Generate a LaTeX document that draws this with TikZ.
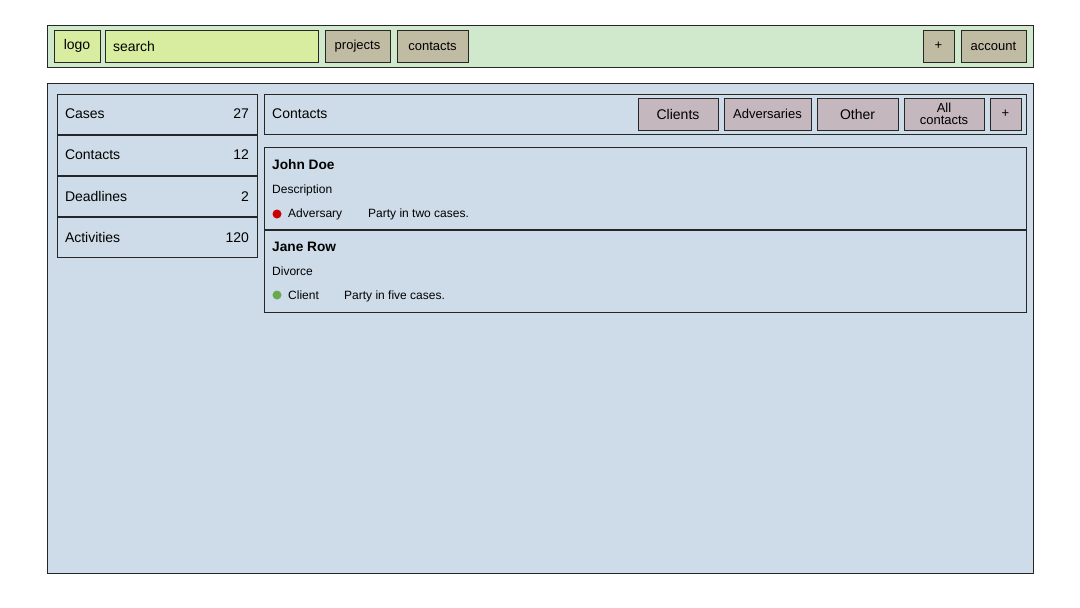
\documentclass[tikz,border=0pt]{standalone}
\usepackage{fontspec}
\setmainfont{Liberation Sans}
\usetikzlibrary{positioning,calc}

\definecolor{barbg}{RGB}{208,233,204}
\definecolor{fieldgreen}{RGB}{217,237,160}
\definecolor{navtan}{RGB}{192,188,164}
\definecolor{panelblue}{RGB}{205,220,232}
\definecolor{tabmauve}{RGB}{196,183,190}
\definecolor{dotred}{RGB}{204,0,0}
\definecolor{dotgreen}{RGB}{106,168,79}

\begin{document}
\begin{tikzpicture}[
    x=1pt, y=-1pt,
    font=\fontsize{14}{16}\selectfont,
    node distance = 6pt and 7pt,
    % --- node styles ---
    box/.style = {rectangle, draw=black!85, line width=0.8pt,
                  inner sep=0pt, outer sep=0pt, minimum height=32pt},
    field/.style = {box, fill=fieldgreen},
    navbtn/.style = {box, fill=navtan, font=\fontsize{13}{14}\selectfont},
    tabbtn/.style = {box, fill=tabmauve, minimum height=32pt},
    sideitem/.style = {box, fill=panelblue, minimum height=40pt,
                       text width=184pt, inner xsep=8pt, align=left},
    card/.style = {box, fill=panelblue, minimum width=762pt, minimum height=82pt},
    cname/.style = {font=\bfseries\fontsize{13.7}{16}\selectfont, inner sep=0pt, anchor=base west},
    meta/.style = {font=\fontsize{12}{13}\selectfont, inner sep=0pt, anchor=base west},
    dot/.style = {circle, inner sep=0pt, minimum size=9pt},
]
\useasboundingbox (0,0) rectangle (1080,608);

%============ TOP BAR ============
\node (topbar) [box, fill=barbg, minimum width=986pt, minimum height=42pt,
                anchor=north west] at (47,25) {};

\node (logo) [field, minimum width=46pt, anchor=north west] at (54,30) {logo};
\node (search) [field, text width=197pt, inner xsep=8pt, align=left,
                right=5pt of logo] {search};
\node (projects) [navbtn, minimum width=65pt, right=7pt of search] {projects};
\node (contacts) [navbtn, minimum width=71pt, right=7pt of projects] {contacts};

\node (account) [navbtn, minimum width=65pt, anchor=north east] at (1026,30) {account};
\node (newitem) [navbtn, minimum width=31pt, left=7pt of account] {+};

%============ MAIN PANEL ============
\node (panel) [box, fill=panelblue, minimum width=986pt, minimum height=490pt,
               anchor=north west] at (47,83) {};

%============ SIDEBAR ============
\node (cases) [sideitem, anchor=north west] at (57,94) {Cases\hfill 27};
\node (contactsnav) [sideitem, below=1pt of cases] {Contacts\hfill 12};
\node (deadlines) [sideitem, below=1pt of contactsnav] {Deadlines\hfill 2};
\node (activities) [sideitem, below=1pt of deadlines] {Activities\hfill 120};

%============ CONTACTS HEADER ============
\node (header) [box, fill=panelblue, minimum width=762pt, minimum height=40pt,
                anchor=north west] at (264,94) {};
\node (hdrtitle) [inner sep=0pt, anchor=west] at ($(header.west)+(8,0)$) {Contacts};

% Filter tabs, right to left
\node (addtab) [tabbtn, minimum width=31pt, anchor=north east,
                font=\fontsize{13}{14}\selectfont]
  at ($(header.north east)+(-5,4)$) {+};
\node (alltab) [tabbtn, minimum width=80pt, left=6pt of addtab, align=center,
                font=\fontsize{13}{12}\selectfont] {All\\contacts};
\node (othertab) [tabbtn, minimum width=81pt, left=6pt of alltab] {Other};
\node (advtab) [tabbtn, minimum width=87pt, left=6pt of othertab,
                font=\fontsize{13}{14}\selectfont] {Adversaries};
\node (clienttab) [tabbtn, minimum width=80pt, left=6pt of advtab] {Clients};

%============ CONTACT CARDS ============
\node (card1) [card, anchor=north west] at (264,147) {};
\node (card2) [card, below=1pt of card1] {};

% John Doe
\node (jdname) [cname] at ($(card1.north west)+(8,22)$) {John Doe};
\node (jddesc) [meta] at ($(card1.north west)+(8,46)$) {Description};
\node (jddot) [dot, fill=dotred] at ($(card1.north west)+(13,67)$) {};
\node (jdrole) [meta] at ($(card1.north west)+(24,70)$) {Adversary};
\node (jdnote) [meta] at ($(card1.north west)+(104,70)$) {Party in two cases.};

% Jane Row
\node (jrname) [cname] at ($(card2.north west)+(8,21)$) {Jane Row};
\node (jrdesc) [meta] at ($(card2.north west)+(8,45)$) {Divorce};
\node (jrdot) [dot, fill=dotgreen] at ($(card2.north west)+(13,65)$) {};
\node (jrrole) [meta] at ($(card2.north west)+(24,69)$) {Client};
\node (jrnote) [meta] at ($(card2.north west)+(80,69)$) {Party in five cases.};

\end{tikzpicture}
\end{document}
